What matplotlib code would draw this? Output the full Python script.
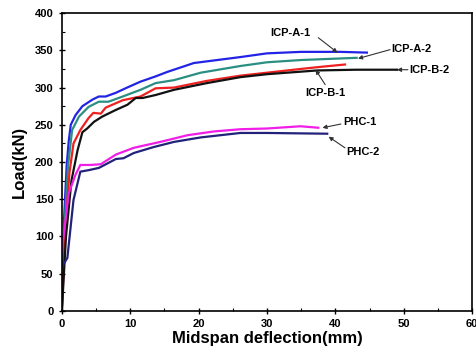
import matplotlib
matplotlib.use("Agg")
import matplotlib.pyplot as plt
from matplotlib.ticker import MultipleLocator

plt.rcParams['font.family'] = ['Liberation Sans', 'DejaVu Sans']
plt.rcParams['font.weight'] = 'bold'

# ICP-A-1 (blue)
a1_x = [0, 0.3, 0.7, 1.0, 1.3, 2.0, 3.0, 4.5, 5.4, 6.4, 7.9, 9.3, 11.5, 13.7, 15.4, 19.3, 22.7, 26.1, 30, 35, 40.7, 44.6]
a1_y = [0, 120, 195, 228, 250, 263, 275, 284, 288, 288, 293, 299, 308, 315, 321, 333, 337, 341, 346, 348, 348, 347]
# ICP-A-2 (teal)
a2_x = [0, 0.4, 0.9, 1.5, 2.5, 3.9, 5.4, 6.8, 8.9, 11.5, 13.7, 16.4, 20.3, 26.1, 30, 34.9, 43.1]
a2_y = [0, 115, 195, 243, 261, 274, 281, 281, 288, 297, 306, 310, 320, 329, 334, 337, 340]
# ICP-B-1 (red)
b1_x = [0, 0.5, 1.1, 1.7, 2.7, 3.9, 4.6, 5.7, 6.4, 8.9, 11.5, 13.7, 16.4, 21.2, 26.1, 30, 34.9, 38, 41.4]
b1_y = [0, 110, 185, 225, 243, 259, 266, 265, 273, 283, 288, 299, 300, 309, 316, 320, 325, 328, 331]
# ICP-B-2 (black)
b2_x = [0, 0.6, 1.4, 2.3, 3.0, 3.7, 4.7, 5.9, 7.9, 9.6, 10.8, 11.8, 13.7, 16.4, 21.2, 26.1, 30, 37.3, 43, 49.0]
b2_y = [0, 100, 175, 216, 240, 245, 254, 261, 270, 277, 286, 286, 290, 297, 306, 314, 318, 323, 324, 324]
# PHC-1 (magenta)
p1_x = [0, 1.0, 2.0, 2.7, 4.2, 5.7, 7.9, 10.5, 14.4, 18.4, 22.2, 26.1, 30, 34.9, 37.5]
p1_y = [81, 158, 183, 196, 196, 197, 210, 219, 227, 236, 241, 244, 245, 248, 246]
# PHC-2 (navy)
p2_x = [0, 0.8, 1.7, 2.7, 3.9, 5.4, 7.9, 9.0, 10.5, 13.4, 16.4, 20.3, 26.1, 30, 38.8]
p2_y = [59, 71, 149, 187, 189, 192, 204, 205, 212, 220, 227, 233, 239, 239, 238]

series = [
    (a1_x, a1_y, '#2323e6'),
    (a2_x, a2_y, '#2a8f82'),
    (b1_x, b1_y, '#ee2020'),
    (b2_x, b2_y, '#111111'),
    (p1_x, p1_y, '#f01ee6'),
    (p2_x, p2_y, '#22227a'),
]

labels = ['ICP-A-1', 'ICP-A-2', 'ICP-B-1', 'ICP-B-2', 'PHC-1', 'PHC-2']
label_pos = [(30.4, 374), (48.2, 352), (35.6, 293), (50.8, 323), (41.1, 254), (41.6, 214)]
arrow_tip = [(40.3, 347), (43.3, 339), (37.1, 324), (49.0, 324), (38.1, 246), (39.0, 234)]
arrow_tail = [(37.5, 367), (48.0, 351), (38.5, 304), (50.6, 324), (40.8, 251), (41.4, 219)]

fig = plt.figure(figsize=(4.76, 3.56), dpi=100)
ax = fig.add_axes([0.130, 0.127, 0.862, 0.836])

for x, y, c in series:
    ax.plot(x, y, color=c, lw=1.6)

for lab, pos, tip, tail in zip(labels, label_pos, arrow_tip, arrow_tail):
    ax.text(pos[0], pos[1], lab, fontsize=8, fontweight='bold', va='center', ha='left')
    ax.annotate('', xy=tip, xytext=tail,
                arrowprops=dict(arrowstyle='-|>', color='#333333', lw=0.8,
                                mutation_scale=6, shrinkA=0, shrinkB=0))

ax.set_xlim(0, 60)
ax.set_ylim(0, 400)
ax.xaxis.set_major_locator(MultipleLocator(10))
ax.xaxis.set_minor_locator(MultipleLocator(5))
ax.yaxis.set_major_locator(MultipleLocator(50))
ax.yaxis.set_minor_locator(MultipleLocator(25))
ax.tick_params(which='major', direction='inout', length=5, width=1, labelsize=8)
ax.tick_params(which='minor', direction='in', length=2.5, width=0.8)
for lbl in ax.get_xticklabels() + ax.get_yticklabels():
    lbl.set_fontweight('bold')
for s in ax.spines.values():
    s.set_linewidth(1.2)

ax.set_xlabel('Midspan deflection(mm)', fontsize=12, fontweight='bold', labelpad=1)
ax.set_ylabel('Load(kN)', fontsize=12, fontweight='bold', labelpad=6)

fig.savefig('out.png', dpi=100)
